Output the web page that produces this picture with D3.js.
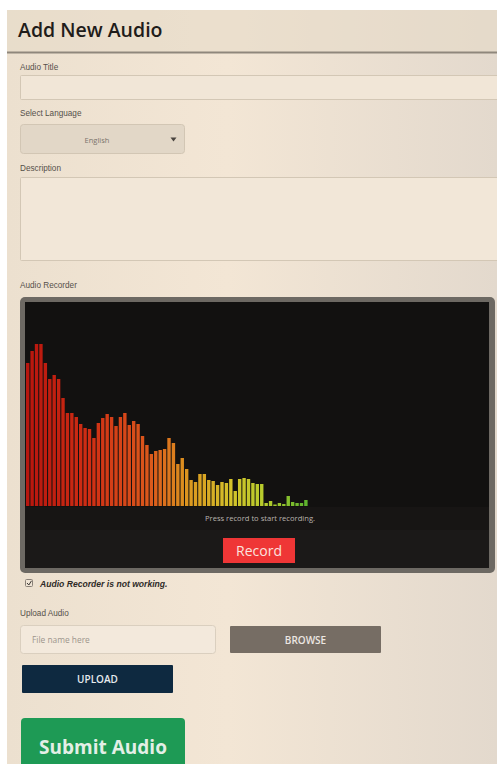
<!DOCTYPE html>
<html><head><meta charset="utf-8">
<script src="https://cdnjs.cloudflare.com/ajax/libs/d3/7.8.5/d3.min.js"></script>
<style>html,body{margin:0;padding:0;background:#fff;overflow:hidden}</style>
</head><body>
<svg id="c" width="497" height="764"></svg>
<script>
// ---- data ----
const bins = d3.range(64);
const levels = [143,155,162,162,143,127,131,127,108,93,93,89,82,78,77,68,
  83,88,92,89,80,89,93,81,85,82,70,61,52,55,56,57,
  68,63,42,48,37,26,24,32,32,26,25,21,24,23,27,15,
  27,28,27,23,22,22,3,5,1.5,3,2,10,4,3,3,6];
const formLabels = ["Audio Title","Select Language","Description","Audio Recorder","Upload Audio"];
const languageOptions = ["English"];
const buttonLabels = ["Record","BROWSE","UPLOAD","Submit Audio"];

const svg = d3.select("#c");
const defs = svg.append("defs");
const bg = defs.append("linearGradient").attr("id","bg").attr("x1","0").attr("x2","1").attr("y1","0").attr("y2","0");
bg.append("stop").attr("offset","0").attr("stop-color","#ece0cf");
bg.append("stop").attr("offset","0.45").attr("stop-color","#f3e6d5");
bg.append("stop").attr("offset","1").attr("stop-color","#e3d9cd");

svg.append("rect").attr("x",7).attr("y",10).attr("width",490).attr("height",754).attr("fill","url(#bg)");
svg.append("rect").attr("x",7).attr("y",10).attr("width",490).attr("height",42).attr("fill","#e6dac8").attr("opacity",0.6);
svg.append("text").attr("x",18).attr("y",37).text("Add New Audio")
  .attr("font-family","Open Sans").attr("font-weight",600).attr("font-size",19.5).attr("fill","#1f1c1a");
svg.append("rect").attr("x",7).attr("y",51.5).attr("width",490).attr("height",2).attr("fill","#8f877c");

const lab = (t,y)=>svg.append("text").attr("x",20).attr("y",y).text(t)
  .attr("font-family","Liberation Sans").attr("font-size",8.2).attr("fill","#55504a");
lab(formLabels[0],70); lab(formLabels[1],116); lab(formLabels[2],171); lab(formLabels[3],288); lab(formLabels[4],616);

const box = (x,y,w,h,fill,stroke,r)=>svg.append("rect").attr("x",x).attr("y",y).attr("width",w).attr("height",h)
  .attr("rx",r||0).attr("fill",fill).attr("stroke",stroke||"none").attr("stroke-width",1);
box(20.5,75.5,478,24,"#f1e6d7","#d3c7b5",1);
box(20.5,124.5,164,29,"#e2d7c7","#d2c6b4",3);
svg.append("text").attr("x",97).attr("y",143).attr("text-anchor","middle").text(languageOptions[0])
  .attr("font-family","Open Sans").attr("font-size",7.5).attr("fill","#7a736b");
svg.append("path").attr("d","M170.5,137.5 L176.5,137.5 L173.5,141.5 Z").attr("fill","#4a4540");
box(20.5,177.5,478,83,"#f2e7d8","#d3c7b5",1);

// recorder
box(20,297,475,276,"#6d6963",null,5);
box(25,302,464,266,"#121110");
box(25,507,464,23,"#171514");
box(25,530,464,38,"#1b1918");

const x = d3.scaleBand().domain(bins).range([26,307.6]).paddingInner(0.23).paddingOuter(0);
const y = d3.scaleLinear().domain([0,203]).range([506,303]);
const col = d3.scaleLinear().domain([0,14,28,36,46,54,63])
  .range(["#b8160e","#cf2e14","#dc5a1c","#dc941f","#d4c22a","#b4cc2c","#5fb42e"]);
svg.append("g").selectAll("rect").data(bins).join("rect")
  .attr("x",d=>x(d)).attr("width",x.bandwidth())
  .attr("y",d=>y(levels[d])).attr("height",d=>y(0)-y(levels[d]))
  .attr("fill",d=>col(d));

svg.append("text").attr("x",260).attr("y",521).attr("text-anchor","middle").text("Press record to start recording.")
  .attr("font-family","Open Sans").attr("font-size",7.6).attr("fill","#b9b4ae");
box(223,538,72,25,"#ef3636");
svg.append("text").attr("x",259).attr("y",556).attr("text-anchor","middle").text(buttonLabels[0])
  .attr("font-family","Open Sans").attr("font-size",14).attr("fill","#fbe3df");

// checkbox
box(25.5,579.5,7,7,"#eee3d4","#8a8178",1);
svg.append("path").attr("d","M27,583 L28.8,585 L31.5,580.8").attr("fill","none").attr("stroke","#3a3632").attr("stroke-width",1);
svg.append("text").attr("x",40).attr("y",587).text("Audio Recorder is not working.")
  .attr("font-family","Liberation Sans").attr("font-weight","bold").attr("font-style","italic")
  .attr("font-size",8.6).attr("fill","#2e2a27");

// upload
box(20.5,625.5,195,28,"#f3e9dc","#dacfbf",3);
svg.append("text").attr("x",32).attr("y",643).text("File name here")
  .attr("font-family","Open Sans").attr("font-size",8.4).attr("fill","#9d958c");
box(230,626,151,27,"#766d64",null,1);
svg.append("text").attr("x",305.5).attr("y",643.5).attr("text-anchor","middle").text(buttonLabels[1])
  .attr("font-family","Open Sans").attr("font-weight",600).attr("font-size",10).attr("fill","#ece7e2");
box(22,665,151,28,"#0e2940",null,1);
svg.append("text").attr("x",97.5).attr("y",683).attr("text-anchor","middle").text(buttonLabels[2])
  .attr("font-family","Open Sans").attr("font-weight",600).attr("font-size",10).attr("fill","#e6ebef");
box(21,718,164,50,"#1e9a55",null,4);
svg.append("text").attr("x",103).attr("y",754).attr("text-anchor","middle").text(buttonLabels[3])
  .attr("font-family","Open Sans").attr("font-weight",700).attr("font-size",19).attr("fill","#e3efe6");
</script>
</body></html>
